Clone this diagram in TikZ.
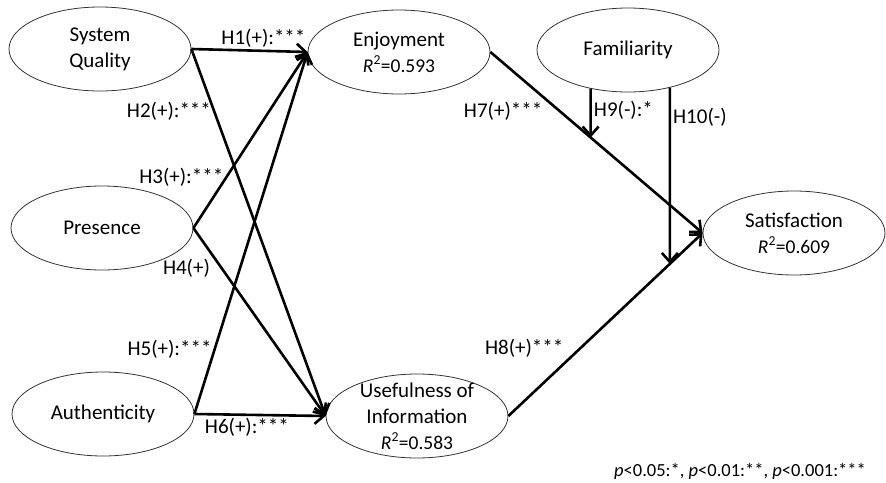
\documentclass[tikz,border=0pt]{standalone}
\usepackage{fontspec}
\setmainfont{Carlito}
\usepackage{tikz}
\usetikzlibrary{positioning,calc,shapes,arrows.meta,intersections}
\newcommand{\ovalwidth}{182pt}
\newcommand{\ovalheight}{84pt}
\newcommand{\rsq}[1]{{\fontsize{19.5}{23}\selectfont\textit{R}\textsuperscript{2}=#1}}

\tikzset{
  construct/.style={ellipse, draw=black!80, line width=0.8pt, fill=white,
    minimum width=\ovalwidth, minimum height=\ovalheight, inner sep=0pt,
    align=center, font=\fontsize{21}{26}\selectfont},
  link/.style={line width=2.6pt, -{Straight Barb[length=9pt,width=16pt,line width=2.6pt]}},
  hyp/.style={font=\fontsize{21}{25}\selectfont, inner sep=2pt}
}

\begin{document}
\begin{tikzpicture}[x=1pt, y=-1pt]
  \useasboundingbox (0,0) rectangle (886,482);

  \node [construct] (sq)  at (100, 49)  {System\\Quality};
  \node [construct] (enj) at (399, 52)  {Enjoyment\\\rsq{0.593}};
  \node [construct] (fam) at (628, 50)  {Familiarity};
  \node [construct] (sat) at (794, 233) {Satisfaction\\\rsq{0.609}};
  \node [construct] (pre) at (102, 228) {Presence};
  \node [construct] (aut) at (103, 414) {Authenticity};
  \node [construct, inner ysep=-10pt] (use) at (417, 416) {Usefulness of\\Information\\\rsq{0.583}};

  \draw [link] (sq.east)  -- node [hyp, above, pos=0.62] {H1(+):***} (enj.west);
  \draw [link] (sq.east)  -- node [hyp, left, pos=0.17]  {H2(+):***} (use.west);
  \draw [link] (pre.east) -- node [hyp, left, pos=0.29]  {H3(+):***} (enj.west);
  \draw [link] (pre.east) -- node [hyp, below left, pos=0.15] {H4(+)} (use.west);
  \draw [link] (aut.east) -- node [hyp, left, pos=0.18]  {H5(+):***} (enj.west);
  \draw [link] (aut.east) -- node [hyp, below, pos=0.4]  {H6(+):***} (use.west);

  \draw [link, name path=h7] (enj.east) -- node [hyp, below left, pos=0.26] {H7(+)***} (sat.west);
  \draw [link, name path=h8] (use.east) -- node [hyp, above left, pos=0.3]  {H8(+)***} (sat.west);

  \path [name path=v9]  (fam.226) -- ++(0, 300);
  \path [name path=v10] (fam.318) -- ++(0, 300);
  \path [name intersections={of=h7 and v9, by=m9}];
  \path [name intersections={of=h8 and v10, by=m10}];

  \draw [link] (fam.226) -- node [hyp, right, pos=0.45] {H9(-):*} (m9);
  \draw [link] (fam.318) -- node [hyp, right, pos=0.17] {H10(-)} (m10);

  \node [font=\fontsize{18.5}{22}\selectfont] (note) at (740, 471)
    {\textit{p}<0.05:*, \textit{p}<0.01:**, \textit{p}<0.001:***};
\end{tikzpicture}
\end{document}
